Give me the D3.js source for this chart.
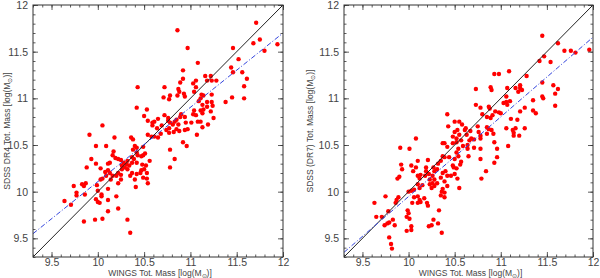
<!DOCTYPE html>
<html>
<head>
<meta charset="utf-8">
<script src="https://cdn.jsdelivr.net/npm/d3@7"></script>
<style>
body { margin: 0; background: #fff; }
text { font-family: "Liberation Sans", Arial, sans-serif; fill: #444; }
</style>
</head>
<body>
<svg id="fig" width="600" height="278"></svg>
<script>
// tick values shared by both panels
var majorTicks = [9.5, 10, 10.5, 11, 11.5, 12];
var tickLabels = ["9.5", "10", "10.5", "11", "11.5", "12"];
var axisDomain = [9.3, 12];

// WINGS vs SDSS DR4 (left panel), [wings, sdss]
var dr4Points = [
 [10.86,11.73],[11.71,11.81],[10.97,11.54],[11.46,11.54],[11.68,11.59],[11.75,11.63],[11.94,11.58],[11.80,11.51],
 [11.52,11.42],[11.08,11.38],[10.92,11.30],[11.44,11.33],[11.46,11.28],[11.56,11.28],[11.61,11.21],[10.92,11.21],
 [10.89,11.17],[11.16,11.24],[11.22,11.24],[11.28,11.19],[11.23,11.19],[11.18,11.19],[11.06,11.19],[11.03,11.16],
 [10.87,11.10],[10.88,11.07],[10.93,11.05],[10.94,11.02],[11.06,11.12],[10.72,11.12],[11.04,11.07],[11.12,11.04],
 [11.14,11.03],[11.11,11.00],[11.23,11.04],[11.23,10.96],[11.18,10.96],[11.13,10.93],[11.09,10.97],[11.58,11.13],
 [11.58,11.00],[11.45,11.01],[11.38,10.96],[10.43,11.12],[10.71,11.01],[10.77,10.99],[10.78,11.03],[10.86,11.03],
 [10.42,10.90],[10.53,10.88],[10.50,10.81],[10.54,10.76],[10.59,10.74],[10.65,10.78],[10.61,10.75],[10.72,10.82],
 [10.76,10.79],[10.76,10.76],[10.78,10.74],[10.83,10.75],[10.85,10.77],[10.81,10.72],[10.89,10.80],[10.90,10.83],
 [10.94,10.80],[10.95,10.74],[11.03,10.83],[11.04,10.87],[11.06,10.82],[11.01,10.74],[10.97,10.67],[10.94,10.66],
 [11.11,10.87],[11.13,10.84],[11.14,10.88],[11.18,10.91],[11.22,10.86],[11.24,10.92],[11.25,10.79],[11.08,10.75],
 [11.11,10.75],[11.13,10.69],[11.19,10.72],[10.87,10.72],[10.88,10.65],[10.85,10.67],[10.82,10.64],[11.07,10.61],
 [10.05,10.71],[9.91,10.61],[10.18,10.58],[10.36,10.58],[10.38,10.56],[10.59,10.71],[10.64,10.68],[10.69,10.71],
 [10.77,10.68],[10.68,10.62],[10.74,10.66],[10.54,10.61],[10.58,10.59],[10.61,10.59],[10.65,10.58],[10.77,10.63],
 [10.78,10.45],[10.83,10.35],[10.78,10.26],[10.92,10.53],[10.96,10.49],[9.98,10.49],[10.09,10.49],[10.40,10.49],
 [10.42,10.47],[10.38,10.45],[10.49,10.48],[10.51,10.41],[10.47,10.38],[10.43,10.39],[10.42,10.42],[10.17,10.43],
 [10.16,10.39],[10.19,10.36],[10.22,10.35],[10.25,10.34],[10.28,10.31],[10.31,10.29],[10.26,10.28],[10.29,10.26],
 [10.32,10.33],[10.37,10.31],[10.39,10.35],[10.37,10.37],[10.42,10.31],[10.48,10.29],[10.49,10.39],[10.52,10.28],
 [10.56,10.33],[10.50,10.24],[10.47,10.23],[10.46,10.20],[10.53,10.20],[9.93,10.35],[9.88,10.26],[9.98,10.30],
 [10.03,10.25],[10.11,10.30],[10.13,10.31],[10.08,10.21],[10.11,10.23],[10.13,10.20],[10.16,10.17],[10.14,10.13],
 [10.09,10.17],[10.05,10.14],[10.03,10.13],[10.22,10.20],[10.25,10.18],[10.20,10.17],[10.26,10.24],[10.32,10.24],
 [10.35,10.17],[10.34,10.28],[10.37,10.20],[10.42,10.19],[10.40,10.13],[10.25,10.13],[10.22,10.09],[10.53,10.14],
 [10.54,10.09],[10.49,10.15],[10.41,10.05],[9.83,10.08],[9.85,10.06],[9.87,10.09],[9.74,10.06],[9.77,9.99],
 [9.77,9.96],[9.86,9.97],[9.99,10.07],[10.00,10.01],[10.04,9.97],[10.04,9.95],[9.98,9.92],[10.00,9.89],
 [10.02,9.88],[10.11,10.03],[10.11,9.91],[10.20,9.95],[9.71,9.86],[9.64,9.90],[10.11,9.79],[10.22,9.82],
 [9.85,9.68],[9.97,9.70],[10.05,9.71],[10.32,9.70],[10.35,9.56]
];

// WINGS vs SDSS DR7 (right panel), [wings, sdss]
var dr7Points = [
 [11.45,11.67],[11.62,11.59],[11.69,11.51],[11.76,11.51],[11.81,11.49],[11.96,11.52],[11.42,11.40],[11.47,11.45],
 [11.54,11.39],[10.93,11.26],[10.98,11.26],[11.09,11.29],[11.28,11.24],[11.07,11.11],[11.16,11.11],[11.21,11.11],
 [11.23,11.09],[11.19,11.07],[11.21,11.14],[10.73,11.10],[10.89,11.12],[10.90,11.09],[11.06,11.02],[11.45,11.17],
 [11.57,11.14],[11.62,11.10],[11.59,11.05],[11.45,11.02],[11.46,11.00],[11.35,10.98],[11.59,10.92],[10.42,10.83],
 [10.43,10.70],[10.73,10.93],[10.78,10.90],[10.87,10.91],[10.88,10.89],[10.94,10.86],[10.85,10.80],[10.89,10.79],
 [10.91,10.82],[10.80,10.83],[10.98,10.85],[11.00,10.84],[11.03,10.95],[11.06,10.96],[11.07,10.93],[11.10,10.97],
 [11.11,10.78],[11.18,10.77],[11.21,10.86],[11.26,10.90],[11.35,10.87],[11.38,10.84],[11.26,10.68],[11.16,10.68],
 [11.06,10.68],[11.13,10.66],[11.14,10.63],[11.14,10.60],[11.20,10.60],[11.08,10.49],[10.62,10.68],[10.61,10.66],
 [10.67,10.65],[10.75,10.70],[10.76,10.64],[10.78,10.60],[10.78,10.57],[10.85,10.69],[10.87,10.67],[10.90,10.66],
 [10.92,10.62],[10.85,10.62],[10.93,10.53],[10.96,10.46],[10.96,10.37],[10.93,10.31],[10.78,10.35],[10.78,10.46],
 [10.84,10.22],[10.79,10.14],[10.71,10.47],[10.63,10.61],[10.50,10.75],[10.55,10.75],[10.58,10.72],[10.50,10.64],
 [10.53,10.66],[10.55,10.61],[10.52,10.57],[10.48,10.59],[10.37,10.52],[10.39,10.52],[10.42,10.48],[10.48,10.52],
 [10.52,10.53],[10.57,10.55],[10.59,10.49],[10.64,10.50],[10.66,10.55],[10.68,10.57],[10.71,10.56],[10.64,10.46],
 [10.65,10.38],[10.54,10.46],[10.52,10.42],[10.54,10.38],[10.50,10.35],[10.57,10.32],[10.56,10.29],[10.48,10.28],
 [10.49,10.26],[10.52,10.25],[10.44,10.37],[10.39,10.37],[10.37,10.38],[10.35,10.33],[10.32,10.30],[10.31,10.24],
 [10.37,10.20],[10.40,10.22],[10.42,10.17],[10.46,10.17],[10.50,10.19],[10.53,10.14],[10.55,10.04],[10.42,10.06],
 [10.35,10.15],[10.39,10.11],[10.37,10.03],[10.36,10.00],[10.39,9.99],[10.35,9.96],[10.39,9.94],[10.33,9.80],
 [10.32,9.66],[10.36,9.56],[10.27,10.26],[10.28,10.22],[10.26,10.17],[10.23,10.13],[10.28,10.13],[10.26,10.09],
 [10.31,10.09],[10.28,10.06],[10.25,10.04],[10.23,10.08],[10.21,10.34],[10.19,10.26],[10.19,10.22],[10.22,10.19],
 [10.18,10.17],[10.13,10.18],[10.12,10.14],[10.10,10.17],[10.10,10.33],[10.08,10.57],[10.01,10.46],[9.91,10.47],
 [9.92,10.29],[9.93,10.24],[9.90,10.16],[9.88,10.14],[10.03,10.28],[10.08,10.26],[10.05,10.22],[10.00,10.00],
 [10.03,10.01],[10.06,10.02],[10.12,10.04],[10.15,10.07],[10.10,10.08],[10.10,9.95],[10.12,9.91],[10.10,9.88],
 [10.13,9.89],[10.17,9.93],[10.20,9.88],[10.21,9.85],[10.06,9.94],[10.04,9.88],[9.99,9.80],[10.00,9.77],
 [9.98,9.73],[10.01,9.71],[10.03,9.63],[9.98,9.58],[10.03,9.59],[10.22,9.63],[10.25,9.64],[10.27,9.70],
 [9.63,9.88],[9.65,9.73],[9.71,9.73],[9.75,9.95],[9.78,9.79],[9.77,9.66],[9.79,9.67],[9.74,9.64],
 [9.83,9.70],[9.85,9.64],[9.86,9.88],[9.89,9.94],[9.87,9.91],[9.79,9.51],[9.81,9.44],[9.82,9.39]
];

// least-squares fits (blue dash-dot) and the 1:1 line
var dr4Fit = [[9.3, 9.55], [12, 11.70]];
var dr7Fit = [[9.3, 9.35], [12, 11.655]];
var oneToOne = [[9.3, 9.3], [12, 12]];

var panels = [
  {x0: 33, x1: 283, pts: dr4Points, fit: dr4Fit, ylab: "SDSS DR4 Tot. Mass [log(M", ylabX: 7},
  {x0: 344, x1: 593, pts: dr7Points, fit: dr7Fit, ylab: "SDSS (DR7) Tot. Mass [log(M", ylabX: 310}
];
var yTop = 5, yBot = 257;

var svg = d3.select("#fig");
var minorTicks = d3.range(93, 121).map(function(d){ return d / 10; });

panels.forEach(function(p){
  var x = d3.scaleLinear().domain(axisDomain).range([p.x0, p.x1]);
  var y = d3.scaleLinear().domain(axisDomain).range([yBot, yTop]);
  var g = svg.append("g");

  var clipId = "clip" + p.x0;
  g.append("clipPath").attr("id", clipId).append("rect")
    .attr("x", p.x0).attr("y", yTop).attr("width", p.x1 - p.x0).attr("height", yBot - yTop);

  var plot = g.append("g").attr("clip-path", "url(#" + clipId + ")");
  var line = d3.line().x(function(d){ return x(d[0]); }).y(function(d){ return y(d[1]); });

  plot.selectAll(".dot").data(p.pts).enter().append("circle")
    .attr("class", "dot")
    .attr("cx", function(d){ return x(d[0]); })
    .attr("cy", function(d){ return y(d[1]); })
    .attr("r", 2.2)
    .style("fill", "#f00");

  plot.append("path").datum(oneToOne).attr("d", line)
    .style("fill", "none").style("stroke", "#222").style("stroke-width", 1);
  plot.append("path").datum(p.fit).attr("d", line)
    .style("fill", "none").style("stroke", "#3344dd").style("stroke-width", 1)
    .style("stroke-dasharray", "5,2,1,2");

  // ticks on all four sides, pointing in
  function sides(ticks, len, labels){
    var fmt = labels ? function(d, i){ return tickLabels[i]; } : "";
    var b = d3.axisBottom(x).tickValues(ticks).tickSizeInner(-len).tickSizeOuter(0).tickPadding(2).tickFormat(fmt);
    var t = d3.axisTop(x).tickValues(ticks).tickSizeInner(-len).tickSizeOuter(0).tickFormat("");
    var l = d3.axisLeft(y).tickValues(ticks).tickSizeInner(-len).tickSizeOuter(0).tickPadding(5).tickFormat(fmt);
    var r = d3.axisRight(y).tickValues(ticks).tickSizeInner(-len).tickSizeOuter(0).tickFormat("");
    [[b, "translate(0," + yBot + ")"], [t, "translate(0," + yTop + ")"],
     [l, "translate(" + p.x0 + ",0)"], [r, "translate(" + p.x1 + ",0)"]].forEach(function(a){
      var ax = g.append("g").attr("transform", a[1]).call(a[0]);
      ax.select(".domain").remove();
      ax.selectAll("line").style("stroke", "#333").style("stroke-width", 0.8);
      ax.selectAll("text").attr("font-size", 10.5).attr("font-family", null).style("fill", "#444");
    });
  }
  sides(minorTicks, 2.5, false);
  sides(majorTicks, 5, true);

  g.append("rect").attr("x", p.x0).attr("y", yTop)
    .attr("width", p.x1 - p.x0).attr("height", yBot - yTop)
    .style("fill", "none").style("stroke", "#333").style("stroke-width", 1);

  // axis titles
  var xt = g.append("text").attr("x", (p.x0 + p.x1) / 2 + 2).attr("y", 276)
    .attr("text-anchor", "middle").attr("font-size", 8.5);
  xt.append("tspan").text("WINGS Tot. Mass [log(M");
  xt.append("tspan").attr("dy", 2).attr("font-size", 6).text("\u2299");
  xt.append("tspan").attr("dy", -2).text(")]");

  var yt = g.append("text")
    .attr("transform", "translate(" + (p.ylabX + 3) + "," + ((yTop + yBot) / 2) + ") rotate(-90)")
    .attr("text-anchor", "middle").attr("font-size", 8.5);
  yt.append("tspan").text(p.ylab);
  yt.append("tspan").attr("dy", 2).attr("font-size", 6).text("\u2299");
  yt.append("tspan").attr("dy", -2).text(")]");
});
</script>
</body>
</html>
